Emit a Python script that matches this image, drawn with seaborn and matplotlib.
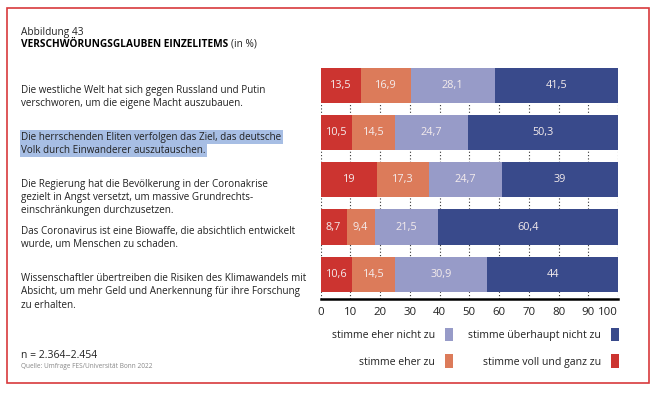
import numpy as np
import pandas as pd
import matplotlib
matplotlib.use("Agg")
import matplotlib.pyplot as plt
import matplotlib.transforms as mtransforms
from matplotlib.patches import Rectangle, Patch
import seaborn as sns

# Data (in %)
items = [
    "Die westliche Welt hat sich gegen Russland und Putin\nverschworen, um die eigene Macht auszubauen.",
    "Die herrschenden Eliten verfolgen das Ziel, das deutsche\nVolk durch Einwanderer auszutauschen.",
    "Die Regierung hat die Bevölkerung in der Coronakrise\ngezielt in Angst versetzt, um massive Grundrechts-\neinschränkungen durchzusetzen.",
    "Das Coronavirus ist eine Biowaffe, die absichtlich entwickelt\nwurde, um Menschen zu schaden.",
    "Wissenschaftler übertreiben die Risiken des Klimawandels mit\nAbsicht, um mehr Geld und Anerkennung für ihre Forschung\nzu erhalten.",
]
voll_und_ganz = [13.5, 10.5, 19, 8.7, 10.6]
eher_zu = [16.9, 14.5, 17.3, 9.4, 14.5]
eher_nicht = [28.1, 24.7, 24.7, 21.5, 30.9]
ueberhaupt_nicht = [41.5, 50.3, 39, 60.4, 44]

categories = ["stimme voll und ganz zu", "stimme eher zu",
              "stimme eher nicht zu", "stimme überhaupt nicht zu"]
colors = ["#cc3430", "#dc7b5a", "#979bc8", "#394a8b"]

df = pd.DataFrame({
    "item": [f"i{k}" for k in range(len(items))],
    categories[0]: voll_und_ganz,
    categories[1]: eher_zu,
    categories[2]: eher_nicht,
    categories[3]: ueberhaupt_nicht,
})
cum = df[categories].cumsum(axis=1)

sns.set_style("white")
plt.rcParams["font.family"] = ["Open Sans", "DejaVu Sans"]
txt = "#222222"
fs = 7.1

fig = plt.figure(figsize=(6.58, 3.93), dpi=100)
ax = fig.add_axes([320.7 / 658, 1 - 298.7 / 393, (618 - 320.7) / 658, (298.7 - 68) / 393])

# stacked bars: draw cumulative totals from the largest down
for cat, col in reversed(list(zip(categories, colors))):
    sns.barplot(x=cum[cat], y=df["item"], color=col, orient="h", width=0.745,
                saturation=1, ax=ax, zorder=3, linewidth=0)

# segment labels
for i in range(len(df)):
    left = 0
    for cat in categories:
        v = df.loc[i, cat]
        ax.text(left + v / 2, i, f"{v:g}".replace(".", ","), ha="center", va="center",
                color="#f4ecec", fontsize=7.8, zorder=4)
        left += v

ax.set_xlim(0, 100)
ax.set_ylim(4.52, -0.3725)
ax.set_xticks(range(0, 101, 10))
ax.set_xticklabels([str(t) for t in range(0, 101, 10)])
ax.get_xticklabels()[-1].set_ha("right")
ax.tick_params(axis="x", length=0, pad=6, labelsize=8.2, labelcolor=txt)
ax.set_yticks([])
ax.set_xlabel("")
ax.set_ylabel("")
for s in ["top", "right", "left"]:
    ax.spines[s].set_visible(False)
ax.spines["bottom"].set_linewidth(1.8)
ax.spines["bottom"].set_color("black")
ax.grid(axis="x", color="#333333", linestyle=(0, (1, 2)), linewidth=0.8, zorder=0)
ax.set_axisbelow(True)

# item texts on the left
trans = mtransforms.blended_transform_factory(fig.transFigure, ax.transData)
for i, label in enumerate(items):
    if i == 1:
        lines = label.split("\n")
        for j, line in enumerate(lines):
            ax.text(21 / 658, i - 0.02 + j * 0.27, line, transform=trans, ha="left", va="top",
                    fontsize=fs, color=txt,
                    bbox=dict(boxstyle="square,pad=0.15", facecolor="#a7bee4", edgecolor="none"))
    else:
        ax.text(21 / 658, i - 0.02, label, transform=trans, ha="left", va="top",
                fontsize=fs, color=txt, linespacing=1.28)

# legend
order = [2, 1, 3, 0]
handles = [Patch(facecolor=colors[k], edgecolor="none") for k in order]
labels = [categories[k] for k in order]
ax.legend(handles, labels, ncol=2, loc="upper right", bbox_to_anchor=(1.003, -0.125),
          frameon=False, markerfirst=False, fontsize=7.6, handlelength=0.76,
          handleheight=1.65, handletextpad=0.9, columnspacing=1.5, labelspacing=1.2,
          borderpad=0, borderaxespad=0, labelcolor=txt)

# titles and notes
fig.text(21 / 658, 1 - 33 / 393, "Abbildung 43", fontsize=7.3, color=txt, va="center")
t = fig.text(21 / 658, 1 - 44.5 / 393, "VERSCHWÖRUNGSGLAUBEN EINZELITEMS", fontsize=7.3,
             fontweight="bold", color="black", va="center")
fig.canvas.draw()
bb = t.get_window_extent()
fig.text(bb.x1 / 658 + 3 / 658, 1 - 44.5 / 393, "(in %)", fontsize=7.3, color=txt, va="center")
fig.text(21 / 658, 1 - 355 / 393, "n = 2.364–2.454", fontsize=7.5, color=txt, va="center")
fig.text(21 / 658, 1 - 366.5 / 393, "Quelle: Umfrage FES/Universität Bonn 2022", fontsize=4.7,
         color="#888888", va="center")

# frame
fig.patches.append(Rectangle((7 / 658, 1 - 383 / 393), (649 - 7) / 658, (383 - 8) / 393,
                             transform=fig.transFigure, fill=False, edgecolor="#d8393c",
                             linewidth=1.2))

fig.savefig("out.png", dpi=100)
